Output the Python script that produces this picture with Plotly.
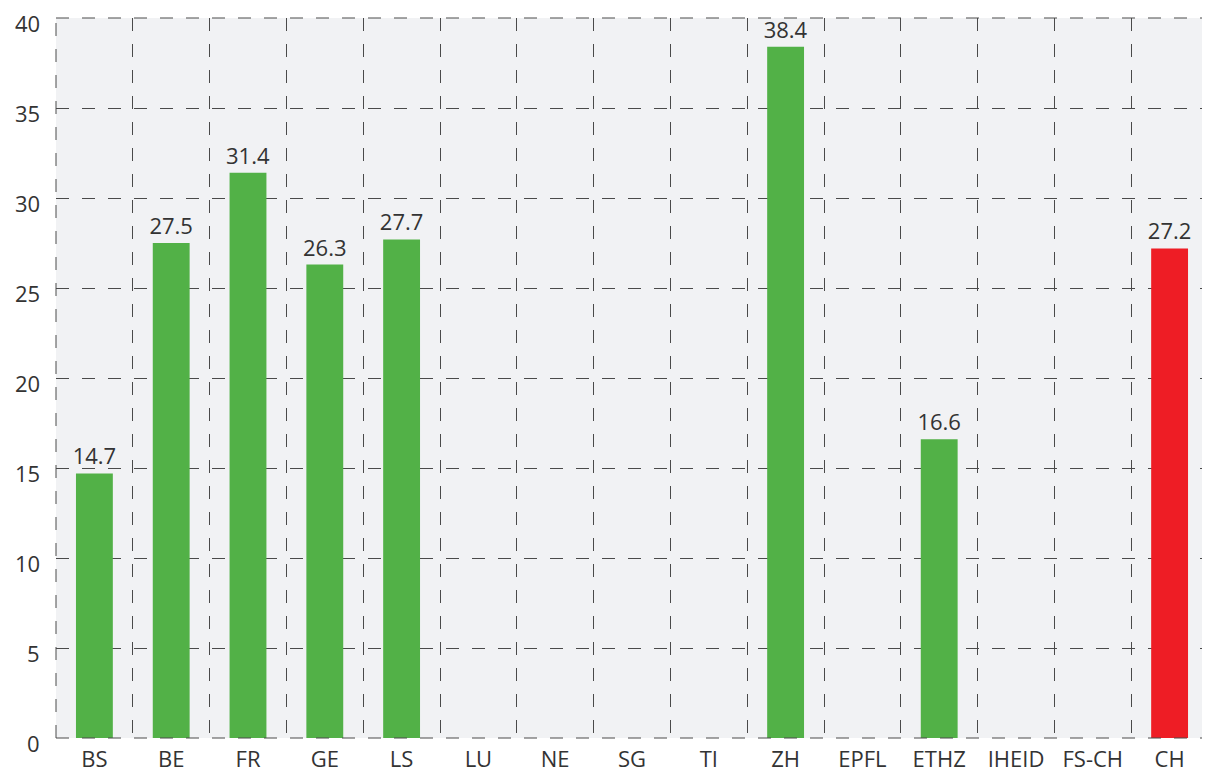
import plotly.graph_objects as go

categories = ["BS", "BE", "FR", "GE", "LS", "LU", "NE", "SG", "TI", "ZH", "EPFL", "ETHZ", "IHEID", "FS-CH", "CH"]
values = [14.7, 27.5, 31.4, 26.3, 27.7, None, None, None, None, 38.4, None, 16.6, None, None, 27.2]
colors = ["#52b147"] * 14 + ["#ee1d25"]
y_ticks = [0, 5, 10, 15, 20, 25, 30, 35, 40]

labels = ["" if v is None else f"{v:.1f}" for v in values]

GRID = "#4a4a4a"
DASH = "13px,13px"
TXT = "#333333"

fig = go.Figure(go.Bar(
    x=categories, y=values, marker_color=colors, marker_line_width=0,
    width=0.48, text=labels, textposition="outside", cliponaxis=False,
    constraintext="none",
    textfont=dict(size=22, color=TXT, family="Open Sans"),
))

fig.update_layout(
    width=1210, height=775,
    margin=dict(l=48, r=10, t=10, b=45),
    paper_bgcolor="white", plot_bgcolor="#f1f2f4",
    font=dict(family="Open Sans", size=22, color=TXT),
    showlegend=False,
    uniformtext=dict(mode=False),
)
# dashed border around the plot area (edges of the grid)
for x0, y0, x1, y1 in [(0, 0, 1, 0), (0, 1, 1, 1), (0, 0, 0, 1), (1, 0, 1, 1)]:
    fig.add_shape(type="line", xref="paper", yref="paper", x0=x0, y0=y0, x1=x1, y1=y1,
                  line=dict(color=GRID, width=1, dash=DASH), layer="above")

# y tick labels, placed via the y axis scale (slightly below the grid line, as in the reference)
for t in y_ticks:
    fig.add_annotation(x=0, xref="paper", y=t, yref="y", text=str(t), showarrow=False,
                       xanchor="right", yanchor="middle", xshift=-15, yshift=-5,
                       borderpad=0,
                       font=dict(size=22, color=TXT, family="Open Sans"))

fig.update_xaxes(
    type="category", tickson="boundaries", showgrid=True, gridcolor=GRID,
    griddash=DASH, gridwidth=1, ticks="", zeroline=False, automargin=False,
    tickfont=dict(size=22, color=TXT), range=[-0.5, 14.5],
    ticklabelstandoff=6, ticklabeloverflow="allow",
)
fig.update_yaxes(
    range=[0, 40], tickvals=y_ticks, showgrid=True, gridcolor=GRID,
    griddash=DASH, gridwidth=1, zeroline=False, ticks="", automargin=False,
    showticklabels=False,
)

fig.write_html("out.html")
